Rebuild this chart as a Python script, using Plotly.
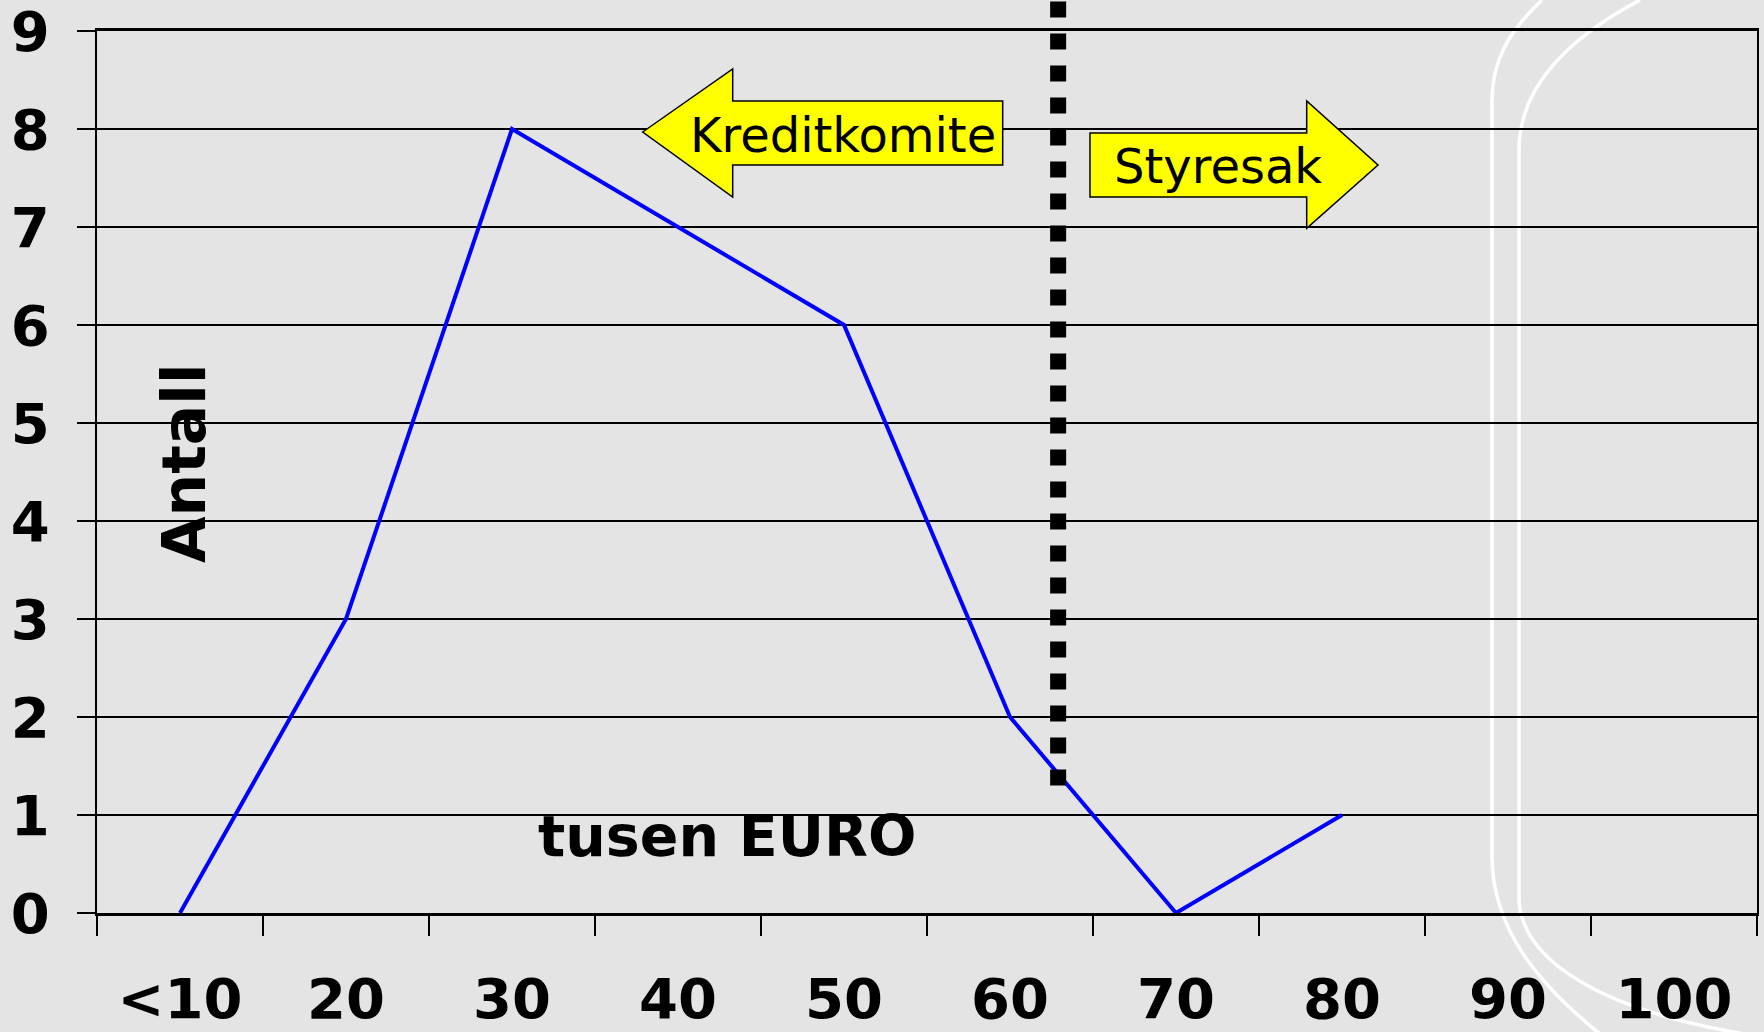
import plotly.graph_objects as go

# ---- data ----
categories = ["<10", "20", "30", "40", "50", "60", "70", "80", "90", "100"]
antall = [0, 3, 8, 7, 6, 2, 0, 1, None, None]
y_ticks = [0, 1, 2, 3, 4, 5, 6, 7, 8, 9]
threshold_pos = 5.29          # category-index position of the dotted divider
threshold_bottom = 1.3        # value where the divider ends
left_label = "Kreditkomite"
right_label = "Styresak"
x_title = "tusen EURO"
y_title = "Antall"

# ---- page geometry (pixels) ----
W, H = 1764, 1032
ML, MR, MT, MB = 97, 7, 31, 119
PW, PH = W - ML - MR, H - MT - MB
BG = "#E4E4E4"


def px(x):
    return (x - ML) / PW


def py(y):
    return (H - MB - y) / PH


def path(points):
    return "M " + " L ".join(f"{px(a):.5f},{py(b):.5f}" for a, b in points) + " Z"


fig = go.Figure()
fig.add_trace(go.Scatter(
    x=categories, y=antall, mode="lines",
    line=dict(color="#0000FF", width=4),
    connectgaps=False, showlegend=False, hoverinfo="skip",
))

tickfont = dict(family="DejaVu Sans", size=56, color="black", weight="bold")

fig.update_xaxes(
    type="category", categoryorder="array", categoryarray=categories,
    range=[-0.5, len(categories) - 0.5],
    tickson="boundaries", ticks="outside", ticklen=20, tickwidth=1.5, tickcolor="black",
    showline=True, linecolor="black", linewidth=2.5, mirror=True,
    showgrid=False, zeroline=False,
    tickfont=tickfont, ticklabelstandoff=35, automargin=False,
    ticklabeloverflow="allow",
)
fig.update_yaxes(
    range=[0, 9], tickvals=y_ticks, ticktext=[str(v) for v in y_ticks],
    ticks="outside", ticklen=18, tickwidth=1.5, tickcolor="black",
    showline=True, linecolor="black", linewidth=2, mirror=True,
    showgrid=True, gridcolor="black", gridwidth=1.5, zeroline=False,
    tickfont=tickfont, ticklabelstandoff=16, automargin=False,
    ticklabeloverflow="allow",
)

shapes = []
# decorative white curves (background template)
white = dict(color="white", width=3.5)
curves = [
    f"M {px(1542):.5f},{py(0):.5f} C {px(1510):.5f},{py(30):.5f} {px(1492):.5f},{py(60):.5f} {px(1492):.5f},{py(100):.5f} "
    f"L {px(1492):.5f},{py(856):.5f} C {px(1492):.5f},{py(930):.5f} {px(1540):.5f},{py(985):.5f} {px(1600):.5f},{py(1034):.5f}",
    f"M {px(1640):.5f},{py(0):.5f} C {px(1565):.5f},{py(40):.5f} {px(1519):.5f},{py(90):.5f} {px(1519):.5f},{py(150):.5f} "
    f"L {px(1519):.5f},{py(900):.5f} C {px(1522):.5f},{py(960):.5f} {px(1600):.5f},{py(1010):.5f} {px(1745):.5f},{py(1034):.5f}",
]
for c in curves:
    shapes.append(dict(type="path", path=c, xref="paper", yref="paper",
                       line=white, layer="below"))

# dotted divider
shapes.append(dict(type="line", xref="x", yref="paper",
                   x0=threshold_pos, x1=threshold_pos,
                   y0=threshold_bottom / 9, y1=py(0),
                   line=dict(color="black", width=16, dash="16px,16px")))

# arrows
left_arrow = [(642.7, 132), (732.7, 69), (732.7, 101), (1002.7, 101),
              (1002.7, 165), (732.7, 165), (732.7, 197)]
right_arrow = [(1090, 133), (1306.7, 133), (1306.7, 101), (1378, 165),
               (1306.7, 228.3), (1306.7, 197), (1090, 197)]
for arr in (left_arrow, right_arrow):
    shapes.append(dict(type="path", path=path(arr), xref="paper", yref="paper",
                       fillcolor="#FFFF00", line=dict(color="black", width=1.5),
                       layer="above"))

annotations = [
    dict(text=left_label, x=px(843), y=py(135), xref="paper", yref="paper",
         showarrow=False, xanchor="center", yanchor="middle",
         font=dict(family="DejaVu Sans", size=48, color="black")),
    dict(text=right_label, x=px(1218), y=py(166), xref="paper", yref="paper",
         showarrow=False, xanchor="center", yanchor="middle",
         font=dict(family="DejaVu Sans", size=48, color="black")),
    dict(text=x_title, x=px(727), y=py(836), xref="paper", yref="paper",
         showarrow=False, xanchor="center", yanchor="middle",
         font=dict(family="DejaVu Sans", size=57, color="black", weight="bold")),
    dict(text=y_title, x=px(184), y=py(464), xref="paper", yref="paper",
         showarrow=False, xanchor="center", yanchor="middle", textangle=-90,
         font=dict(family="DejaVu Sans", size=60, color="black", weight="bold")),
]

fig.update_layout(
    width=W, height=H,
    margin=dict(l=ML, r=MR, t=MT, b=MB, pad=0),
    paper_bgcolor=BG, plot_bgcolor=BG,
    shapes=shapes, annotations=annotations,
    showlegend=False,
)

fig.write_html(
    "out.html",
    config={"displayModeBar": False},
    post_script="document.body.style.margin='0';document.body.style.overflow='hidden';",
)
